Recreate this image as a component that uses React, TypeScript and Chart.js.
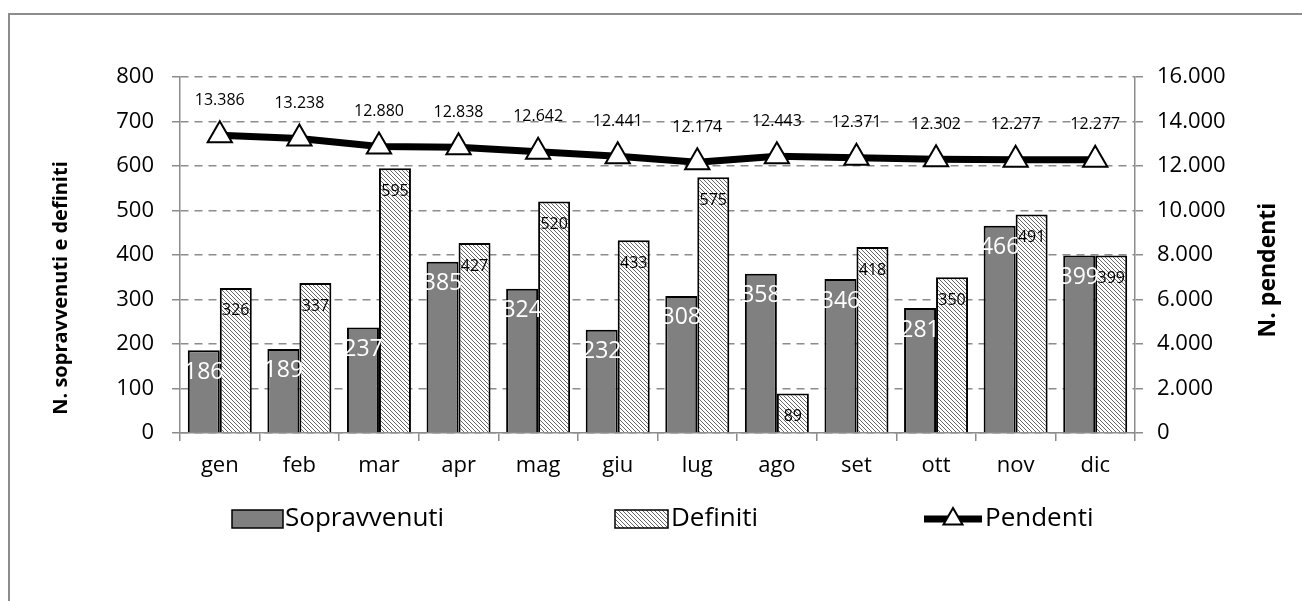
import React, { useEffect, useRef } from "react";
import { Chart, registerables } from "chart.js";

Chart.register(...registerables);

const months = ["gen", "feb", "mar", "apr", "mag", "giu", "lug", "ago", "set", "ott", "nov", "dic"];
const sopravvenuti = [186, 189, 237, 385, 324, 232, 308, 358, 346, 281, 466, 399];
const definiti = [326, 337, 595, 427, 520, 433, 575, 89, 418, 350, 491, 399];
const pendenti = [13386, 13238, 12880, 12838, 12642, 12441, 12174, 12443, 12371, 12302, 12277, 12277];

const leftTitle = "N. sopravvenuti e definiti";
const rightTitle = "N. pendenti";
const seriesNames = ["Sopravvenuti", "Definiti", "Pendenti"];

const FONT = "'Open Sans', sans-serif";
const AXIS = "#8c8c8c";

const fmt = (v: number) => String(Math.round(v)).replace(/\B(?=(\d{3})+(?!\d))/g, ".");

function makeHatch(): CanvasPattern | string {
  const s = 4;
  const c = document.createElement("canvas");
  c.width = s;
  c.height = s;
  const g = c.getContext("2d");
  if (!g) return "#ccc";
  g.fillStyle = "#fff";
  g.fillRect(0, 0, s, s);
  g.strokeStyle = "#666";
  g.lineWidth = 1;
  g.beginPath();
  g.moveTo(-1, -1);
  g.lineTo(s + 1, s + 1);
  g.moveTo(-1, s - 1);
  g.lineTo(1, s + 1);
  g.moveTo(s - 1, -1);
  g.lineTo(s + 1, 1);
  g.stroke();
  const p = g.createPattern(c, "repeat");
  return p || "#ccc";
}

export default function App() {
  const ref = useRef<HTMLCanvasElement | null>(null);

  useEffect(() => {
    document.body.style.margin = "0";
    const canvas = ref.current;
    if (!canvas) return;
    const hatch = makeHatch();

    const decor = {
      id: "decor",
      afterDatasetsDraw(chart: any) {
        const ctx = chart.ctx;
        ctx.save();
        ctx.textAlign = "center";
        ctx.textBaseline = "middle";
        const mS = chart.getDatasetMeta(1);
        ctx.font = `23px ${FONT}`;
        ctx.fillStyle = "#fff";
        mS.data.forEach((el: any, i: number) => {
          ctx.fillText(String(sopravvenuti[i]), el.x, el.y + 22);
        });
        const mD = chart.getDatasetMeta(2);
        ctx.font = `16px ${FONT}`;
        ctx.fillStyle = "#000";
        mD.data.forEach((el: any, i: number) => {
          ctx.fillText(String(definiti[i]), el.x, el.y + 23);
        });
        const mL = chart.getDatasetMeta(0);
        mL.data.forEach((el: any, i: number) => {
          ctx.fillText(fmt(pendenti[i]), el.x, el.y - 35);
        });
        ctx.restore();
      },
      afterDraw(chart: any) {
        const ctx = chart.ctx;
        ctx.save();
        // outer frame
        ctx.strokeStyle = AXIS;
        ctx.lineWidth = 2;
        ctx.beginPath();
        ctx.moveTo(9, 601);
        ctx.lineTo(9, 14);
        ctx.lineTo(1302, 14);
        ctx.stroke();
        // axis titles
        ctx.fillStyle = "#000";
        ctx.textAlign = "center";
        ctx.textBaseline = "middle";
        ctx.save();
        ctx.font = `bold 20px ${FONT}`;
        ctx.translate(61, 288);
        ctx.rotate(-Math.PI / 2);
        ctx.fillText(leftTitle, 0, 0);
        ctx.restore();
        ctx.save();
        ctx.font = `bold 23px ${FONT}`;
        ctx.translate(1268, 270);
        ctx.rotate(-Math.PI / 2);
        ctx.fillText(rightTitle, 0, 0);
        ctx.restore();
        // legend
        const ly = 519;
        ctx.font = `26px ${FONT}`;
        ctx.textAlign = "left";
        ctx.textBaseline = "middle";
        ctx.lineWidth = 1.5;
        ctx.strokeStyle = "#000";
        // Sopravvenuti
        ctx.fillStyle = "#808080";
        ctx.fillRect(232, ly - 9, 51, 18);
        ctx.strokeRect(232, ly - 9, 51, 18);
        ctx.fillStyle = "#000";
        ctx.fillText(seriesNames[0], 285, ly);
        // Definiti
        ctx.fillStyle = hatch as any;
        ctx.fillRect(615, ly - 9, 53, 18);
        ctx.strokeRect(615, ly - 9, 53, 18);
        ctx.fillStyle = "#000";
        ctx.fillText(seriesNames[1], 671, ly);
        // Pendenti
        ctx.lineWidth = 7;
        ctx.beginPath();
        ctx.moveTo(924, ly);
        ctx.lineTo(982, ly);
        ctx.stroke();
        const r = 11;
        const cx = 953;
        ctx.beginPath();
        ctx.moveTo(cx, ly - r);
        ctx.lineTo(cx + r * 0.866, ly + r * 0.5);
        ctx.lineTo(cx - r * 0.866, ly + r * 0.5);
        ctx.closePath();
        ctx.fillStyle = "#fff";
        ctx.fill();
        ctx.lineWidth = 2;
        ctx.stroke();
        ctx.fillStyle = "#000";
        ctx.fillText(seriesNames[2], 985, ly);
        ctx.restore();
      },
    };

    const chart = new Chart(canvas, {
      data: {
        labels: months,
        datasets: [
          {
            type: "line",
            label: seriesNames[2],
            data: pendenti,
            yAxisID: "y1",
            borderColor: "#000",
            borderWidth: 7,
            pointStyle: "triangle",
            pointRadius: 14,
            pointBackgroundColor: "#fff",
            pointBorderColor: "#000",
            pointBorderWidth: 2,
            tension: 0,
            order: 0,
          },
          {
            type: "bar",
            label: seriesNames[0],
            data: sopravvenuti,
            yAxisID: "y",
            backgroundColor: "#808080",
            borderColor: "#000",
            borderWidth: 2,
            categoryPercentage: 0.804,
            barPercentage: 1,
            order: 1,
          },
          {
            type: "bar",
            label: seriesNames[1],
            data: definiti,
            yAxisID: "y",
            backgroundColor: hatch as any,
            borderColor: "#000",
            borderWidth: 2,
            categoryPercentage: 0.804,
            barPercentage: 1,
            order: 1,
          },
        ],
      } as any,
      options: {
        responsive: false,
        animation: false,
        layout: { padding: { top: 77, left: 0, right: 0, bottom: 0 } },
        plugins: { legend: { display: false }, tooltip: { enabled: false } },
        scales: {
          x: {
            offset: true,
            grid: { offset: true, drawOnChartArea: false, color: AXIS, tickColor: AXIS, tickLength: 8, lineWidth: 1.5 },
            border: { color: AXIS, width: 1.5 },
            ticks: { font: { family: FONT, size: 22 }, color: "#000", padding: 12, maxRotation: 0 },
            afterFit: (s: any) => {
              s.height = 168;
            },
          },
          y: {
            position: "left",
            min: 0,
            max: 800,
            ticks: { stepSize: 100, font: { family: FONT, size: 22 }, color: "#000", padding: 18 },
            grid: { color: AXIS, lineWidth: 1.5, tickLength: 8, tickColor: AXIS, tickBorderDash: [] },
            border: { color: AXIS, width: 1.5, dash: [8, 6] },
            afterFit: (s: any) => {
              s.width = 180;
            },
          },
          y1: {
            position: "right",
            min: 0,
            max: 16000,
            ticks: {
              stepSize: 2000,
              font: { family: FONT, size: 22 },
              color: "#000",
              padding: 14,
              callback: (v: any) => fmt(Number(v)),
            },
            grid: { drawOnChartArea: false, color: AXIS, tickLength: 8, lineWidth: 1.5 },
            border: { color: AXIS, width: 1.5 },
            afterFit: (s: any) => {
              s.width = 167;
            },
          },
        },
      } as any,
      plugins: [decor],
    });

    return () => chart.destroy();
  }, []);

  return (
    <div style={{ width: 1302, height: 601, position: "relative", background: "#fff" }}>
      <canvas ref={ref} width={1302} height={601} style={{ display: "block" }} />
    </div>
  );
}
